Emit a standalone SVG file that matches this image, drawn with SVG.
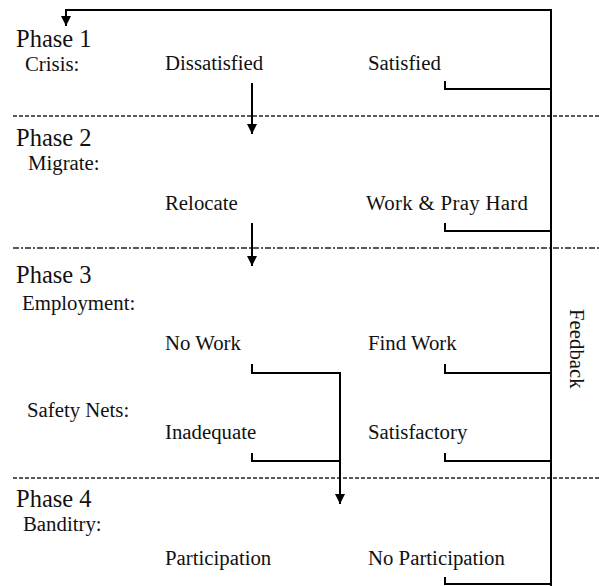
<svg xmlns="http://www.w3.org/2000/svg" width="599" height="586" viewBox="0 0 599 586">
<style>
text{font-family:"Liberation Serif","Times New Roman",serif;fill:#111}
.ph{font-size:24.5px}
.lb{font-size:20.8px}
.ln{fill:none;stroke:#000;stroke-width:2}
.sep{stroke:#222;stroke-width:1.3;fill:none}
</style>
<defs>
<marker id="ah" viewBox="0 0 10 10" refX="10" refY="5" markerWidth="10" markerHeight="10" markerUnits="userSpaceOnUse" orient="auto">
<path d="M0,0 L10,5 L0,10 z" fill="#000"/>
</marker>
</defs>
<g id="separators">
<line class="sep" x1="13" y1="116" x2="599" y2="116" stroke-dasharray="4 2"/>
<line class="sep" x1="13" y1="248" x2="599" y2="248" stroke-dasharray="6 2 2 2"/>
<line class="sep" x1="13" y1="478" x2="599" y2="478" stroke-dasharray="4 2"/>
</g>
<g id="phase1">
<text class="ph" x="16" y="47">Phase 1</text>
<text class="lb" x="25" y="71">Crisis:</text>
</g>
<g id="dissatisfied"><text class="lb" x="165" y="70">Dissatisfied</text></g>
<g id="satisfied"><text class="lb" x="368" y="70">Satisfied</text></g>
<g id="phase2">
<text class="ph" x="16" y="146">Phase 2</text>
<text class="lb" x="28" y="170">Migrate:</text>
</g>
<g id="relocate"><text class="lb" x="165" y="210">Relocate</text></g>
<g id="workpray"><text class="lb" x="366" y="210" textLength="162">Work &amp; Pray Hard</text></g>
<g id="phase3">
<text class="ph" x="16" y="283">Phase 3</text>
<text class="lb" x="22" y="310">Employment:</text>
</g>
<g id="nowork"><text class="lb" x="165" y="350">No Work</text></g>
<g id="findwork"><text class="lb" x="368" y="350">Find Work</text></g>
<g id="safetynets"><text class="lb" x="27" y="417">Safety Nets:</text></g>
<g id="inadequate"><text class="lb" x="165" y="439">Inadequate</text></g>
<g id="satisfactory"><text class="lb" x="368" y="439">Satisfactory</text></g>
<g id="phase4">
<text class="ph" x="16" y="507">Phase 4</text>
<text class="lb" x="23" y="531">Banditry:</text>
</g>
<g id="participation"><text class="lb" x="165" y="565">Participation</text></g>
<g id="noparticipation"><text class="lb" x="368" y="565">No Participation</text></g>
<g id="feedback"><text class="lb" transform="translate(570,309) rotate(90)">Feedback</text></g>
<g id="connectors">
<path class="ln" d="M551,586 V10 H66 V26" marker-end="url(#ah)"/>
<path class="ln" d="M445,81 V89 H551"/>
<path class="ln" d="M445,223 V231 H551"/>
<path class="ln" d="M445,364 V373 H551"/>
<path class="ln" d="M445,453 V461 H551"/>
<path class="ln" d="M445,577 V584 H551"/>
<path class="ln" d="M252,83 V134" marker-end="url(#ah)"/>
<path class="ln" d="M252,223 V266" marker-end="url(#ah)"/>
<path class="ln" d="M252,364 V373 H340 V504" marker-end="url(#ah)"/>
<path class="ln" d="M252,453 V461 H340"/>
</g>
</svg>
